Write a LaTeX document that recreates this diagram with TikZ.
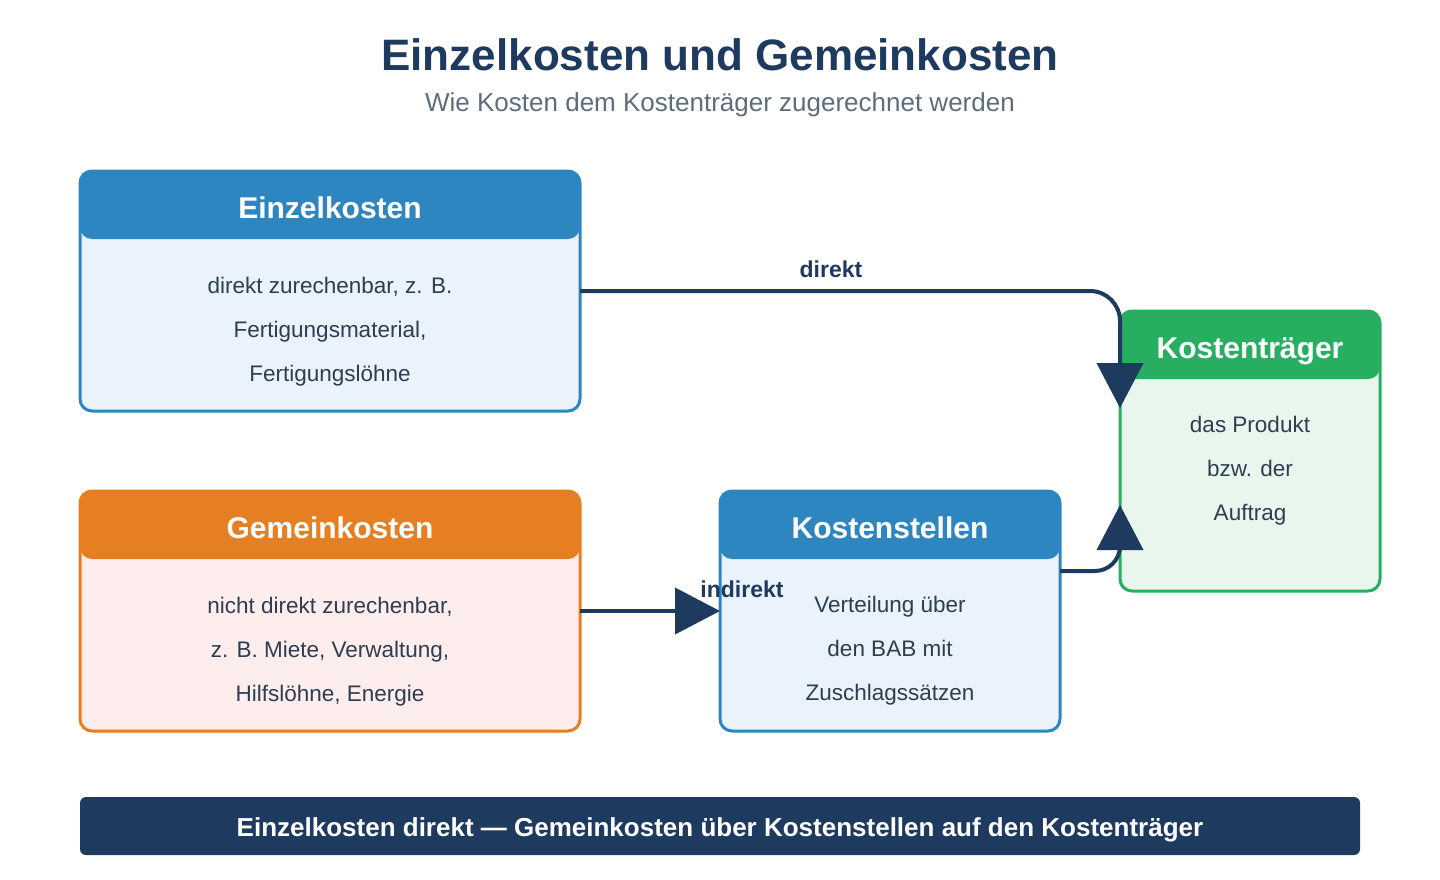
\documentclass[tikz,border=0pt]{standalone}
\usepackage{fontspec}
\setmainfont{Liberation Sans}
\usetikzlibrary{arrows.meta, positioning, calc}

\definecolor{navy}{HTML}{1F3A5F}
\definecolor{ekblue}{HTML}{2E86C1}
\definecolor{ekbody}{HTML}{EAF2FB}
\definecolor{gkorange}{HTML}{E67E22}
\definecolor{gkbody}{HTML}{FDEDEC}
\definecolor{ktgreen}{HTML}{27AE60}
\definecolor{ktbody}{HTML}{E9F6EE}
\definecolor{bodytextcol}{HTML}{2C3E50}
\definecolor{subgray}{HTML}{5D6D7E}

\begin{document}
\begin{tikzpicture}[
    x=1pt, y=-1pt,
    node distance=80pt and 140pt,
    box/.style={rectangle, line width=3pt, rounded corners=12pt, outer sep=0pt, inner sep=0pt},
    head/.style={rectangle, rounded corners=12pt, anchor=north, outer sep=0pt, minimum height=68pt, text height=26pt, text depth=0pt, text=white, font=\fontsize{30}{34}\selectfont\bfseries},
    bodytext/.style={align=center, text=bodytextcol, font=\fontsize{22.5}{44}\selectfont},
    lbl/.style={text=navy, font=\fontsize{23}{26}\selectfont\bfseries},
    arrow/.style={-{Triangle[length=45pt, width=46pt]}, line width=4pt, draw=navy}
]
    \useasboundingbox[fill=white] (0,0) rectangle (1440,880);

    \node[text=navy, font=\fontsize{44}{48}\selectfont\bfseries] (title) at (720,55) {Einzelkosten und Gemeinkosten};
    \node[text=subgray, font=\fontsize{26}{30}\selectfont] (subtitle) at (720,105) {Wie Kosten dem Kostenträger zugerechnet werden};

    \node[box, draw=ekblue, fill=ekbody, minimum width=500pt, minimum height=240pt] (einzel) at (330,291) {};
    \node[head, fill=ekblue, minimum width=500pt] (einzelhead) at (einzel.north) {Einzelkosten};
    \node[bodytext] (einzeltxt) at ([yshift=-41pt]einzel.center) {direkt zurechenbar, z. B.\\Fertigungsmaterial,\\Fertigungslöhne};

    \node[box, draw=gkorange, fill=gkbody, minimum width=500pt, minimum height=240pt, below=of einzel] (gemein) {};
    \node[head, fill=gkorange, minimum width=500pt] (gemeinhead) at (gemein.north) {Gemeinkosten};
    \node[bodytext] (gemeintxt) at ([yshift=-41pt]gemein.center) {nicht direkt zurechenbar,\\z. B. Miete, Verwaltung,\\Hilfslöhne, Energie};

    \node[box, draw=ekblue, fill=ekbody, minimum width=340pt, minimum height=240pt, right=of gemein] (stellen) {};
    \node[head, fill=ekblue, minimum width=340pt] (stellenhead) at (stellen.north) {Kostenstellen};
    \node[bodytext] (stellentxt) at ([yshift=-40pt]stellen.center) {Verteilung über\\den BAB mit\\Zuschlagssätzen};

    \node[box, draw=ktgreen, fill=ktbody, minimum width=260pt, minimum height=280pt] (traeger) at (1250,451) {};
    \node[head, fill=ktgreen, minimum width=260pt] (traegerhead) at (traeger.north) {Kostenträger};
    \node[bodytext] (traegertxt) at ([yshift=-20pt]traeger.center) {das Produkt\\bzw. der\\Auftrag};

    \draw[arrow, rounded corners=30pt] (einzel.east) -| ([yshift=-97pt]traeger.north west);
    \node[lbl] (direktlbl) at (831,269) {direkt};
    \draw[arrow] (gemein.east) -- (stellen.west);
    \node[lbl] (indirektlbl) at ([xshift=22pt, yshift=22pt]stellen.west) {indirekt};
    \draw[arrow, rounded corners=25pt] ([yshift=40pt]stellen.east) -| ([yshift=86pt]traeger.south west);

    \node[rectangle, fill=navy, rounded corners=6pt, minimum width=1280pt, minimum height=58pt, text height=20pt, text depth=0pt, text=white, font=\fontsize{26}{30}\selectfont\bfseries] (banner) at (720,826) {Einzelkosten direkt — Gemeinkosten über Kostenstellen auf den Kostenträger};
\end{tikzpicture}
\end{document}
